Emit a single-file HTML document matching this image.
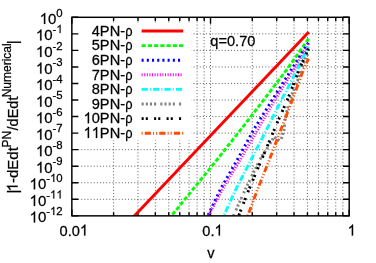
<!DOCTYPE html><html><head><meta charset="utf-8"><style>html,body{margin:0;padding:0;background:#fff}svg{display:block;will-change:transform}text{font-family:"Liberation Sans",sans-serif;fill:#000;stroke:#000;stroke-width:0.25px}.one{fill:#000;stroke:#000;stroke-width:34px}</style></head><body>
<svg width="376" height="263" viewBox="0 0 376 263">
<rect width="376" height="263" fill="#fff"/>
<defs><clipPath id="c"><rect x="71.85" y="17.3" width="277.35" height="198.54999999999998"/></clipPath>
</defs>
<path d="M210.53 215.85 V17.3 M71.85 33.85 H349.2 M71.85 50.39 H349.2 M71.85 66.94 H349.2 M71.85 83.48 H349.2 M71.85 100.03 H349.2 M71.85 116.57 H349.2 M71.85 133.12 H349.2 M71.85 149.67 H349.2 M71.85 166.21 H349.2 M71.85 182.76 H349.2 M71.85 199.30 H349.2" stroke="#000" stroke-opacity="0.64" stroke-width="0.95" stroke-dasharray="1.04 2.08" fill="none"/>
<path d="M113.60 215.85 V17.3 M138.01 215.85 V17.3 M155.34 215.85 V17.3 M168.78 215.85 V17.3 M179.76 215.85 V17.3 M189.04 215.85 V17.3 M197.09 215.85 V17.3 M204.18 215.85 V17.3 M252.27 215.85 V17.3 M276.69 215.85 V17.3 M294.02 215.85 V17.3 M307.45 215.85 V17.3 M318.44 215.85 V17.3 M327.72 215.85 V17.3 M335.76 215.85 V17.3 M342.85 215.85 V17.3" stroke="#000" stroke-opacity="0.64" stroke-width="0.95" stroke-dasharray="1.04 2.08" fill="none"/>
<rect x="72.35" y="24" width="119.2" height="116.5" fill="#fff"/>
<path d="M71.85 215.85 v-6.4 M71.85 17.3 v6.4 M113.60 215.85 v-3.6 M113.60 17.3 v3.6 M138.01 215.85 v-3.6 M138.01 17.3 v3.6 M155.34 215.85 v-3.6 M155.34 17.3 v3.6 M168.78 215.85 v-3.6 M168.78 17.3 v3.6 M179.76 215.85 v-3.6 M179.76 17.3 v3.6 M189.04 215.85 v-3.6 M189.04 17.3 v3.6 M197.09 215.85 v-3.6 M197.09 17.3 v3.6 M204.18 215.85 v-3.6 M204.18 17.3 v3.6 M210.53 215.85 v-6.4 M210.53 17.3 v6.4 M252.27 215.85 v-3.6 M252.27 17.3 v3.6 M276.69 215.85 v-3.6 M276.69 17.3 v3.6 M294.02 215.85 v-3.6 M294.02 17.3 v3.6 M307.45 215.85 v-3.6 M307.45 17.3 v3.6 M318.44 215.85 v-3.6 M318.44 17.3 v3.6 M327.72 215.85 v-3.6 M327.72 17.3 v3.6 M335.76 215.85 v-3.6 M335.76 17.3 v3.6 M342.85 215.85 v-3.6 M342.85 17.3 v3.6 M349.20 215.85 v-6.4 M349.20 17.3 v6.4 M71.85 17.30 h6.5 M349.2 17.30 h-6.2 M71.85 33.85 h6.5 M349.2 33.85 h-6.2 M71.85 50.39 h6.5 M349.2 50.39 h-6.2 M71.85 66.94 h6.5 M349.2 66.94 h-6.2 M71.85 83.48 h6.5 M349.2 83.48 h-6.2 M71.85 100.03 h6.5 M349.2 100.03 h-6.2 M71.85 116.57 h6.5 M349.2 116.57 h-6.2 M71.85 133.12 h6.5 M349.2 133.12 h-6.2 M71.85 149.67 h6.5 M349.2 149.67 h-6.2 M71.85 166.21 h6.5 M349.2 166.21 h-6.2 M71.85 182.76 h6.5 M349.2 182.76 h-6.2 M71.85 199.30 h6.5 M349.2 199.30 h-6.2 M71.85 215.85 h6.5 M349.2 215.85 h-6.2" stroke="#000" stroke-width="1.4" fill="none"/>
<g clip-path="url(#c)" fill="none" stroke-linecap="butt" stroke-linejoin="round">
<path d="M308.80 31.90 L134.30 216.00 L124.82 226.00" stroke="#ff0000" stroke-width="2.9"/>
<path d="M308.60 38.70 L286.50 70.00 L248.30 120.00 L216.80 160.00 L171.30 216.00 L163.18 226.00" stroke="#00ff00" stroke-width="2.9" stroke-dasharray="4.16 2.08" stroke-dashoffset="0.00"/>
<path d="M308.40 42.70 L291.80 69.00 L272.80 99.00 L254.10 129.00 L237.70 159.00 L220.60 189.00 L207.70 216.00 L202.92 226.00" stroke="#0000ff" stroke-width="2.9" stroke-dasharray="2.08 3.12" stroke-dashoffset="0.00"/>
<path d="M308.40 43.90 L294.20 69.00 L275.40 99.00 L258.00 129.00 L240.60 159.00 L222.60 189.00 L208.20 216.00 L202.87 226.00" stroke="#ff00ff" stroke-width="2.9" stroke-dasharray="1.04 1.56" stroke-dashoffset="0.00"/>
<path d="M308.10 46.70 L297.60 69.00 L281.90 99.00 L266.90 129.00 L251.40 159.00 L236.00 189.00 L223.60 216.00 L219.01 226.00" stroke="#00ffff" stroke-width="2.9" stroke-dasharray="6.24 2.08 1.04 2.08" stroke-dashoffset="4.68"/>
<path d="M308.00 54.00 L306.00 56.50 L298.80 77.40 L292.50 92.90 L287.30 109.00 L285.00 121.00 L284.00 130.00 L280.50 141.50 L274.00 136.90 L268.00 147.00 L259.70 160.00 L245.00 190.00 L233.30 216.00 L228.80 226.00" stroke="#808080" stroke-width="2.9" stroke-dasharray="2.08 2.08 2.08 2.08 2.08 2.08 2.08 4.16" stroke-dashoffset="0.00"/>
<path d="M308.50 48.50 L298.90 70.00 L288.20 98.00 L277.40 122.30 L261.40 160.00 L248.70 190.00 L238.60 216.00 L234.72 226.00" stroke="#000000" stroke-width="2.9" stroke-dasharray="2.08 2.08 2.08 6.24" stroke-dashoffset="0.00"/>
<path d="M308.50 58.60 L303.30 70.00 L292.30 100.00 L281.50 128.00 L269.30 160.00 L257.30 190.00 L247.70 216.00 L244.01 226.00" stroke="#ff4d00" stroke-width="2.9" stroke-dasharray="6.24 2.08 1.04 2.08 1.04 2.08" stroke-dashoffset="1.04"/>
</g>
<rect x="71.85" y="17.3" width="277.35" height="198.54999999999998" fill="none" stroke="#000" stroke-width="1.45"/>
<g transform="translate(125.05 35.70) scale(0.975 1.02)">
<text x="-34.17 -25.83 -15.83 -5.00" y="0.00" font-size="15">4PN-</text>
</g>
<text transform="translate(125.3 35.70) scale(0.856 1.02)" font-size="15">ρ</text>
<path d="M141.6 31.00 H183.2" stroke="#ff0000" stroke-width="2.9" fill="none"/>
<g transform="translate(125.05 50.30) scale(0.975 1.02)">
<text x="-34.17 -25.83 -15.83 -5.00" y="0.00" font-size="15">5PN-</text>
</g>
<text transform="translate(125.3 50.30) scale(0.856 1.02)" font-size="15">ρ</text>
<path d="M141.6 45.60 H183.2" stroke="#00ff00" stroke-width="2.9" stroke-dasharray="4.16 2.08" fill="none"/>
<g transform="translate(125.05 64.90) scale(0.975 1.02)">
<text x="-34.17 -25.83 -15.83 -5.00" y="0.00" font-size="15">6PN-</text>
</g>
<text transform="translate(125.3 64.90) scale(0.856 1.02)" font-size="15">ρ</text>
<path d="M141.6 60.20 H183.2" stroke="#0000ff" stroke-width="2.9" stroke-dasharray="2.08 3.12" fill="none"/>
<g transform="translate(125.05 79.50) scale(0.975 1.02)">
<text x="-34.17 -25.83 -15.83 -5.00" y="0.00" font-size="15">7PN-</text>
</g>
<text transform="translate(125.3 79.50) scale(0.856 1.02)" font-size="15">ρ</text>
<path d="M141.6 74.80 H183.2" stroke="#ff00ff" stroke-width="2.9" stroke-dasharray="1.04 1.56" fill="none"/>
<g transform="translate(125.05 94.10) scale(0.975 1.02)">
<text x="-34.17 -25.83 -15.83 -5.00" y="0.00" font-size="15">8PN-</text>
</g>
<text transform="translate(125.3 94.10) scale(0.856 1.02)" font-size="15">ρ</text>
<path d="M141.6 89.40 H183.2" stroke="#00ffff" stroke-width="2.9" stroke-dasharray="6.24 2.08 1.04 2.08" fill="none"/>
<g transform="translate(125.05 108.70) scale(0.975 1.02)">
<text x="-34.17 -25.83 -15.83 -5.00" y="0.00" font-size="15">9PN-</text>
</g>
<text transform="translate(125.3 108.70) scale(0.856 1.02)" font-size="15">ρ</text>
<path d="M141.6 104.00 H183.2" stroke="#808080" stroke-width="2.9" stroke-dasharray="2.08 2.08 2.08 2.08 2.08 2.08 2.08 4.16" fill="none"/>
<g transform="translate(125.05 123.30) scale(0.975 1.02)">
<path class="one" d="M763 0H583V-1147Q518 -1085 412.5 -1023T223 -930V-1104Q374 -1175 487 -1276T647 -1472H763Z" transform="translate(-42.52 0.00) scale(0.00732)"/>
<text x="-34.17 -25.83 -15.83 -5.00" y="0.00" font-size="15">0PN-</text>
</g>
<text transform="translate(125.3 123.30) scale(0.856 1.02)" font-size="15">ρ</text>
<path d="M141.6 118.60 H183.2" stroke="#000000" stroke-width="2.9" stroke-dasharray="2.08 2.08 2.08 6.24" fill="none"/>
<g transform="translate(125.05 137.90) scale(0.975 1.02)">
<path class="one" d="M763 0H583V-1147Q518 -1085 412.5 -1023T223 -930V-1104Q374 -1175 487 -1276T647 -1472H763Z" transform="translate(-42.52 0.00) scale(0.00732)"/>
<path class="one" d="M763 0H583V-1147Q518 -1085 412.5 -1023T223 -930V-1104Q374 -1175 487 -1276T647 -1472H763Z" transform="translate(-34.17 0.00) scale(0.00732)"/>
<text x="-25.83 -15.83 -5.00" y="0.00" font-size="15">PN-</text>
</g>
<text transform="translate(125.3 137.90) scale(0.856 1.02)" font-size="15">ρ</text>
<path d="M141.6 133.20 H183.2" stroke="#ff4d00" stroke-width="2.9" stroke-dasharray="1.04 2.08 6.24 2.08 1.04 2.08" fill="none"/>
<g transform="translate(210.30 46.40) scale(0.975 1.02)">
<text x="0.00 8.34 17.10 25.44 29.61 37.95" y="0.00" font-size="15">q=0.70</text>
</g>
<g transform="translate(62.70 23.90) scale(1.0 1.02)">
<path class="one" d="M763 0H583V-1147Q518 -1085 412.5 -1023T223 -930V-1104Q374 -1175 487 -1276T647 -1472H763Z" transform="translate(-23.02 0.00) scale(0.00732)"/>
<text x="-14.68" y="0.00" font-size="15">0</text>
<text x="-6.34" y="-7.20" font-size="11.4">0</text>
</g>
<g transform="translate(62.70 40.45) scale(1.0 1.02)">
<path class="one" d="M763 0H583V-1147Q518 -1085 412.5 -1023T223 -930V-1104Q374 -1175 487 -1276T647 -1472H763Z" transform="translate(-26.82 0.00) scale(0.00732)"/>
<text x="-18.48" y="0.00" font-size="15">0</text>
<path class="one" d="M763 0H583V-1147Q518 -1085 412.5 -1023T223 -930V-1104Q374 -1175 487 -1276T647 -1472H763Z" transform="translate(-6.34 -7.20) scale(0.00557)"/>
<text x="-10.14" y="-7.20" font-size="11.4">-</text>
</g>
<g transform="translate(62.70 56.99) scale(1.0 1.02)">
<path class="one" d="M763 0H583V-1147Q518 -1085 412.5 -1023T223 -930V-1104Q374 -1175 487 -1276T647 -1472H763Z" transform="translate(-26.82 0.00) scale(0.00732)"/>
<text x="-18.48" y="0.00" font-size="15">0</text>
<text x="-10.14 -6.34" y="-7.20" font-size="11.4">-2</text>
</g>
<g transform="translate(62.70 73.54) scale(1.0 1.02)">
<path class="one" d="M763 0H583V-1147Q518 -1085 412.5 -1023T223 -930V-1104Q374 -1175 487 -1276T647 -1472H763Z" transform="translate(-26.82 0.00) scale(0.00732)"/>
<text x="-18.48" y="0.00" font-size="15">0</text>
<text x="-10.14 -6.34" y="-7.20" font-size="11.4">-3</text>
</g>
<g transform="translate(62.70 90.08) scale(1.0 1.02)">
<path class="one" d="M763 0H583V-1147Q518 -1085 412.5 -1023T223 -930V-1104Q374 -1175 487 -1276T647 -1472H763Z" transform="translate(-26.82 0.00) scale(0.00732)"/>
<text x="-18.48" y="0.00" font-size="15">0</text>
<text x="-10.14 -6.34" y="-7.20" font-size="11.4">-4</text>
</g>
<g transform="translate(62.70 106.63) scale(1.0 1.02)">
<path class="one" d="M763 0H583V-1147Q518 -1085 412.5 -1023T223 -930V-1104Q374 -1175 487 -1276T647 -1472H763Z" transform="translate(-26.82 0.00) scale(0.00732)"/>
<text x="-18.48" y="0.00" font-size="15">0</text>
<text x="-10.14 -6.34" y="-7.20" font-size="11.4">-5</text>
</g>
<g transform="translate(62.70 123.17) scale(1.0 1.02)">
<path class="one" d="M763 0H583V-1147Q518 -1085 412.5 -1023T223 -930V-1104Q374 -1175 487 -1276T647 -1472H763Z" transform="translate(-26.82 0.00) scale(0.00732)"/>
<text x="-18.48" y="0.00" font-size="15">0</text>
<text x="-10.14 -6.34" y="-7.20" font-size="11.4">-6</text>
</g>
<g transform="translate(62.70 139.72) scale(1.0 1.02)">
<path class="one" d="M763 0H583V-1147Q518 -1085 412.5 -1023T223 -930V-1104Q374 -1175 487 -1276T647 -1472H763Z" transform="translate(-26.82 0.00) scale(0.00732)"/>
<text x="-18.48" y="0.00" font-size="15">0</text>
<text x="-10.14 -6.34" y="-7.20" font-size="11.4">-7</text>
</g>
<g transform="translate(62.70 156.27) scale(1.0 1.02)">
<path class="one" d="M763 0H583V-1147Q518 -1085 412.5 -1023T223 -930V-1104Q374 -1175 487 -1276T647 -1472H763Z" transform="translate(-26.82 0.00) scale(0.00732)"/>
<text x="-18.48" y="0.00" font-size="15">0</text>
<text x="-10.14 -6.34" y="-7.20" font-size="11.4">-8</text>
</g>
<g transform="translate(62.70 172.81) scale(1.0 1.02)">
<path class="one" d="M763 0H583V-1147Q518 -1085 412.5 -1023T223 -930V-1104Q374 -1175 487 -1276T647 -1472H763Z" transform="translate(-26.82 0.00) scale(0.00732)"/>
<text x="-18.48" y="0.00" font-size="15">0</text>
<text x="-10.14 -6.34" y="-7.20" font-size="11.4">-9</text>
</g>
<g transform="translate(62.70 189.36) scale(1.0 1.02)">
<path class="one" d="M763 0H583V-1147Q518 -1085 412.5 -1023T223 -930V-1104Q374 -1175 487 -1276T647 -1472H763Z" transform="translate(-33.16 0.00) scale(0.00732)"/>
<text x="-24.82" y="0.00" font-size="15">0</text>
<path class="one" d="M763 0H583V-1147Q518 -1085 412.5 -1023T223 -930V-1104Q374 -1175 487 -1276T647 -1472H763Z" transform="translate(-12.68 -7.20) scale(0.00557)"/>
<text x="-16.48 -6.34" y="-7.20" font-size="11.4">-0</text>
</g>
<g transform="translate(62.70 205.90) scale(1.0 1.02)">
<path class="one" d="M763 0H583V-1147Q518 -1085 412.5 -1023T223 -930V-1104Q374 -1175 487 -1276T647 -1472H763Z" transform="translate(-33.16 0.00) scale(0.00732)"/>
<text x="-24.82" y="0.00" font-size="15">0</text>
<path class="one" d="M763 0H583V-1147Q518 -1085 412.5 -1023T223 -930V-1104Q374 -1175 487 -1276T647 -1472H763Z" transform="translate(-12.68 -7.20) scale(0.00557)"/>
<path class="one" d="M763 0H583V-1147Q518 -1085 412.5 -1023T223 -930V-1104Q374 -1175 487 -1276T647 -1472H763Z" transform="translate(-6.34 -7.20) scale(0.00557)"/>
<text x="-16.48" y="-7.20" font-size="11.4">-</text>
</g>
<g transform="translate(62.70 222.45) scale(1.0 1.02)">
<path class="one" d="M763 0H583V-1147Q518 -1085 412.5 -1023T223 -930V-1104Q374 -1175 487 -1276T647 -1472H763Z" transform="translate(-33.16 0.00) scale(0.00732)"/>
<text x="-24.82" y="0.00" font-size="15">0</text>
<path class="one" d="M763 0H583V-1147Q518 -1085 412.5 -1023T223 -930V-1104Q374 -1175 487 -1276T647 -1472H763Z" transform="translate(-12.68 -7.20) scale(0.00557)"/>
<text x="-16.48 -6.34" y="-7.20" font-size="11.4">-2</text>
</g>
<g transform="translate(73.85 235.60) scale(0.975 1.02)">
<path class="one" d="M763 0H583V-1147Q518 -1085 412.5 -1023T223 -930V-1104Q374 -1175 487 -1276T647 -1472H763Z" transform="translate(6.25 0.00) scale(0.00732)"/>
<text x="-14.60 -6.25 -2.09" y="0.00" font-size="15">0.0</text>
</g>
<g transform="translate(212.53 235.60) scale(0.975 1.02)">
<path class="one" d="M763 0H583V-1147Q518 -1085 412.5 -1023T223 -930V-1104Q374 -1175 487 -1276T647 -1472H763Z" transform="translate(2.08 0.00) scale(0.00732)"/>
<text x="-10.43 -2.08" y="0.00" font-size="15">0.</text>
</g>
<g transform="translate(351.70 235.60) scale(0.975 1.02)">
<path class="one" d="M763 0H583V-1147Q518 -1085 412.5 -1023T223 -930V-1104Q374 -1175 487 -1276T647 -1472H763Z" transform="translate(-4.17 0.00) scale(0.00732)"/>
</g>
<g transform="translate(211.00 257.50) scale(0.975 1.02)">
<text x="-3.75" y="0.00" font-size="15">v</text>
</g>
<g transform="translate(17.60 193.50) rotate(-90) scale(1 1)">
<text x="0.00" y="0.00" font-size="15">|</text>
</g>
<g transform="translate(17.60 191.30) rotate(-90) scale(1 1)">
<path class="one" d="M763 0H583V-1147Q518 -1085 412.5 -1023T223 -930V-1104Q374 -1175 487 -1276T647 -1472H763Z" transform="translate(0.00 0.00) scale(0.00732)"/>
<text x="8.34 13.34 21.68 31.68 40.03" y="0.00" font-size="15">-dEdt</text>
</g>
<g transform="translate(11.00 147.40) rotate(-90) scale(1 1)">
<text x="0.00 8.00" y="0.00" font-size="12">PN</text>
</g>
<g transform="translate(17.60 130.40) rotate(-90) scale(1 1)">
<text x="0.00 4.03 12.09 21.76 29.83" y="0.00" font-size="14.5">/dEdt</text>
</g>
<g transform="translate(11.00 97.30) rotate(-90) scale(1 1)">
<text x="0.00 8.67 15.34 25.34 32.01 36.01 38.67 44.67 51.35" y="0.00" font-size="12">Numerical</text>
</g>
<g transform="translate(17.60 44.15) rotate(-90) scale(1 1)">
<text x="0.00" y="0.00" font-size="15">|</text>
</g>
</svg></body></html>
